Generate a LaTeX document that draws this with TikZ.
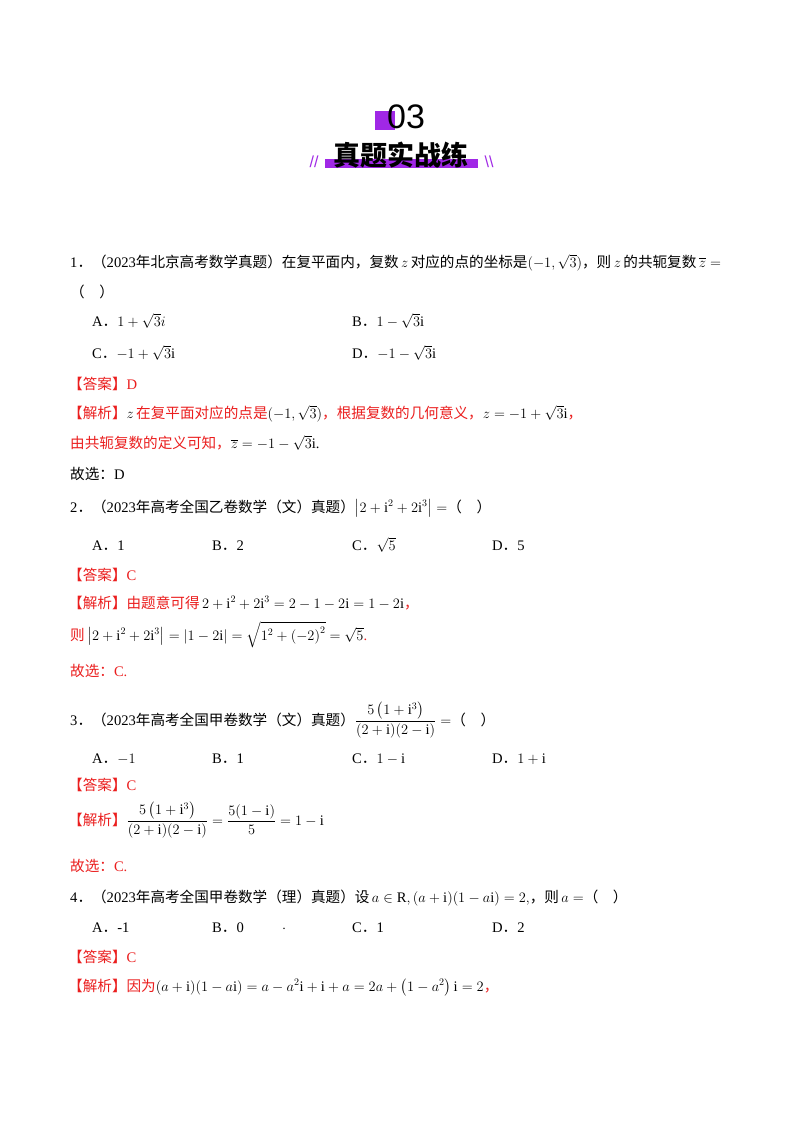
\documentclass[tikz,border=0pt]{standalone}
\usepackage{fontspec}
\usepackage{amsmath}
\setmainfont{Liberation Serif}
\newfontfamily\cjk{Noto Sans CJK SC}
\newfontfamily\hdr{Liberation Sans}
\definecolor{ans}{RGB}{235,30,30}
\definecolor{purp}{RGB}{160,40,230}
\newcommand{\C}[1]{{\cjk #1}}
\newcommand{\Dt}{\C{．}}
\begin{document}
\begin{tikzpicture}[x=1pt,y=-1pt,
  t/.style={anchor=base west,inner sep=0pt,font=\fontsize{14.6}{17}\selectfont},
  r/.style={t,text=ans}]
\useasboundingbox (0,0) rectangle (800,1132);
\fill[white] (0,0) rectangle (800,1132);
% header
\fill[purp] (375,111) rectangle (395,130) coordinate (sq);
\node[anchor=base,inner sep=0pt,font=\hdr\fontsize{34}{34}\selectfont] (n03) at (406,128) {03};
\fill[purp] (325,159) rectangle (478,168);
\node[anchor=base,inner sep=0pt,font=\cjk\bfseries\fontsize{27}{27}\selectfont] (ttl) at (401,165) {真题实战练};
\node[anchor=base,inner sep=0pt,text=purp,font=\hdr\fontsize{16}{16}\selectfont] (sl) at (314,167) {//};
\node[anchor=base,inner sep=0pt,text=purp,font=\hdr\fontsize{16}{16}\selectfont] (sr) at (489,167) {\textbackslash\textbackslash};
% Q1
\node[t] (q1) at (70,267) {1\Dt\C{（}2023\C{年北京高考数学真题）在复平面内，复数}\,$z$\,\C{对应的点的坐标是}$(-1,\sqrt3)$\C{，则}\,$z$\,\C{的共轭复数}\,$\overline{z}=$};
\node[t] (q1b) at (70,297) {\C{（\quad ）}};
\node[t] (q1a) at (92,326) {A\Dt$1+\sqrt3 i$};
\node[t] (q1bb) at (352,326) {B\Dt$1-\sqrt3\mathrm{i}$};
\node[t] (q1c) at (92,358) {C\Dt$-1+\sqrt3\mathrm{i}$};
\node[t] (q1d) at (352,358) {D\Dt$-1-\sqrt3\mathrm{i}$};
\node[r] (a1) at (68,389) {\C{【答案】}D};
\node[r] (j1) at (68,418) {\C{【解析】}\textcolor{black}{$z$}\,\C{在复平面对应的点是}\textcolor{black}{$(-1,\sqrt3)$}\C{，根据复数的几何意义，}\textcolor{black}{$z=-1+\sqrt3\mathrm{i}$}\C{，}};
\node[r] (j1b) at (70,448) {\C{由共轭复数的定义可知，}\textcolor{black}{$\overline{z}=-1-\sqrt3\mathrm{i}$.}};
\node[t] (g1) at (70,479) {\C{故选：}D};
% Q2
\node[t] (q2) at (70,512) {2\Dt\C{（}2023\C{年高考全国乙卷数学（文）真题）}$\left|2+\mathrm{i}^2+2\mathrm{i}^3\right|=$\C{（\quad ）}};
\node[t] (q2a) at (92,550) {A\Dt 1};
\node[t] (q2b) at (212,550) {B\Dt 2};
\node[t] (q2c) at (352,550) {C\Dt$\sqrt5$};
\node[t] (q2d) at (492,550) {D\Dt 5};
\node[r] (a2) at (68,580) {\C{【答案】}C};
\node[r] (j2) at (68,608) {\C{【解析】由题意可得}\,\textcolor{black}{$2+\mathrm{i}^2+2\mathrm{i}^3=2-1-2\mathrm{i}=1-2\mathrm{i}$}\C{，}};
\node[r] (j2b) at (70,640) {\C{则}\,\textcolor{black}{$\left|2+\mathrm{i}^2+2\mathrm{i}^3\right|=\left|1-2\mathrm{i}\right|=\sqrt{1^2+\left(-2\right)^2}=\sqrt5$}.};
\node[r] (g2) at (70,676) {\C{故选：}C.};
% Q3
\node[t] (q3) at (70,725) {3\Dt\C{（}2023\C{年高考全国甲卷数学（文）真题）}$\dfrac{5\left(1+\mathrm{i}^3\right)}{(2+\mathrm{i})(2-\mathrm{i})}=$\C{（\quad ）}};
\node[t] (q3a) at (92,763) {A\Dt$-1$};
\node[t] (q3b) at (212,763) {B\Dt 1};
\node[t] (q3c) at (352,763) {C\Dt$1-\mathrm{i}$};
\node[t] (q3d) at (492,763) {D\Dt$1+\mathrm{i}$};
\node[r] (a3) at (68,790) {\C{【答案】}C};
\node[r] (j3) at (68,825) {\C{【解析】}\textcolor{black}{$\dfrac{5\left(1+\mathrm{i}^3\right)}{(2+\mathrm{i})(2-\mathrm{i})}=\dfrac{5(1-\mathrm{i})}{5}=1-\mathrm{i}$}};
\node[r] (g3) at (70,871) {\C{故选：}C.};
% Q4
\node[t] (q4) at (70,902) {4\Dt\C{（}2023\C{年高考全国甲卷数学（理）真题）设}\,$a\in\mathrm{R},(a+\mathrm{i})(1-a\mathrm{i})=2,$\C{，则}\,$a=$\C{（\quad ）}};
\node[t] (q4a) at (92,932) {A\Dt -1};
\node[t] (q4b) at (212,932) {B\Dt 0};
\node[t] (dot) at (282,932) {$\cdot$};
\node[t] (q4c) at (352,932) {C\Dt 1};
\node[t] (q4d) at (492,932) {D\Dt 2};
\node[r] (a4) at (68,962) {\C{【答案】}C};
\node[r] (j4) at (68,991) {\C{【解析】因为}\textcolor{black}{$(a+\mathrm{i})(1-a\mathrm{i})=a-a^2\mathrm{i}+\mathrm{i}+a=2a+\left(1-a^2\right)\mathrm{i}=2$}\C{，}};
\end{tikzpicture}
\end{document}
